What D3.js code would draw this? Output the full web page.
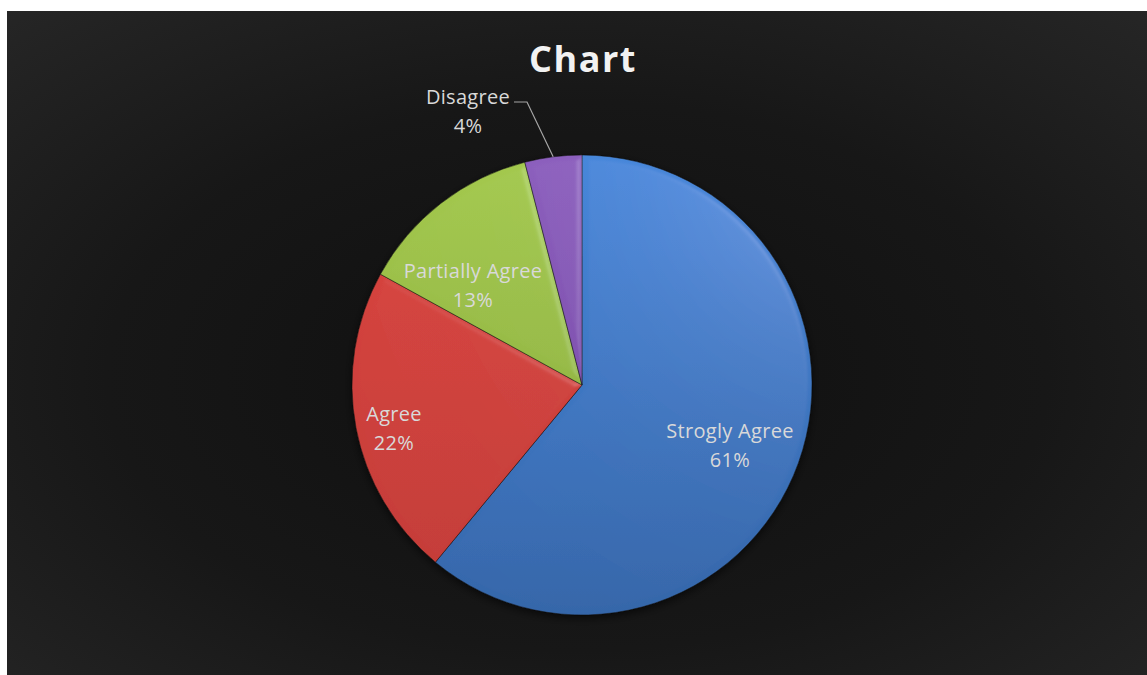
<!DOCTYPE html>
<html>
<head>
<meta charset="utf-8">
<script src="https://cdn.jsdelivr.net/npm/d3@7"></script>
<style>
  html, body { margin: 0; padding: 0; background: #fff; }
  #chart { position: absolute; left: 7px; top: 11px; }
</style>
</head>
<body>
<div id="chart"></div>
<script>
// chart data
const categories = ['Strogly Agree', 'Agree', 'Partially Agree', 'Disagree']
const values = [61, 22, 13, 4]
const colors = ['#4787da', '#db4540', '#a4c94e', '#8c5fbd']
const darkColors = ['#3566a9', '#c23c38', '#86a83c', '#7446a3']

const width = 1140,
  height = 664,
  cx = 575,
  cy = 374,
  radius = 230

let svg = d3.select('#chart')
  .append('svg')
  .attr('width', width)
  .attr('height', height)

let defs = svg.append('defs')

// background
let bg = defs.append('radialGradient')
  .attr('id', 'bg')
  .attr('cx', 0.5).attr('cy', 0.55).attr('r', 0.75)
bg.append('stop').attr('offset', '0%').attr('stop-color', '#0f0f0f')
bg.append('stop').attr('offset', '55%').attr('stop-color', '#171717')
bg.append('stop').attr('offset', '100%').attr('stop-color', '#262626')

svg.append('rect')
  .attr('width', width)
  .attr('height', height)
  .attr('fill', 'url(#bg)')

// slice gradients
colors.forEach((c, i) => {
  let g = defs.append('linearGradient')
    .attr('id', 'slice' + i)
    .attr('gradientUnits', 'userSpaceOnUse')
    .attr('x1', 0).attr('y1', -radius)
    .attr('x2', 0).attr('y2', radius)
  g.append('stop').attr('offset', '0%').attr('stop-color', c)
  g.append('stop').attr('offset', '100%').attr('stop-color', darkColors[i])
})

// bevel-ish filter
let f = defs.append('filter').attr('id', 'bevel')
  .attr('x', '-10%').attr('y', '-10%').attr('width', '120%').attr('height', '120%')
f.append('feGaussianBlur').attr('in', 'SourceAlpha').attr('stdDeviation', 3).attr('result', 'blur')
f.append('feSpecularLighting')
  .attr('in', 'blur').attr('surfaceScale', 3).attr('specularConstant', 0.6)
  .attr('specularExponent', 25).attr('lighting-color', '#ffffff').attr('result', 'spec')
  .append('fePointLight').attr('x', cx - 300).attr('y', cy - 600).attr('z', 300)
f.append('feComposite').attr('in', 'spec').attr('in2', 'SourceAlpha')
  .attr('operator', 'in').attr('result', 'specOut')
f.append('feComposite').attr('in', 'SourceGraphic').attr('in2', 'specOut')
  .attr('operator', 'arithmetic').attr('k1', 0).attr('k2', 1).attr('k3', 0.14).attr('k4', 0)

let shadow = defs.append('filter').attr('id', 'shadow')
  .attr('x', '-20%').attr('y', '-20%').attr('width', '140%').attr('height', '140%')
shadow.append('feDropShadow').attr('dx', 0).attr('dy', 3).attr('stdDeviation', 4)
  .attr('flood-color', '#000').attr('flood-opacity', 0.6)

// title
svg.append('text')
  .attr('x', cx + 1)
  .attr('y', 61)
  .attr('text-anchor', 'middle')
  .attr('font-family', '"Open Sans", sans-serif')
  .attr('font-weight', 'bold')
  .attr('font-size', 36)
  .attr('letter-spacing', 1.5)
  .attr('fill', '#f2f2f2')
  .text('Chart')

let pie = d3.pie().sort(null).value(d => d)
let arcs = pie(values)
let arc = d3.arc().innerRadius(0).outerRadius(radius)

let g = svg.append('g')
  .attr('transform', `translate(${cx},${cy})`)

let pieG = g.append('g').attr('filter', 'url(#shadow)')

pieG.selectAll('path.slice')
  .data(arcs)
  .enter()
  .append('path')
  .attr('class', 'slice')
  .attr('d', arc)
  .attr('fill', (d, i) => `url(#slice${i})`)
  .attr('stroke', 'rgba(20,20,20,0.5)')
  .attr('stroke-width', 1)
  .attr('filter', 'url(#bevel)')

// labels
const labelPos = [[148, 53], [-188, 36], [-109, -107], [-114, -281]]
const labelFont = '"Open Sans", sans-serif'

let labels = g.selectAll('g.label')
  .data(arcs)
  .enter()
  .append('g')
  .attr('class', 'label')
  .attr('transform', (d, i) => `translate(${labelPos[i][0]},${labelPos[i][1]})`)

labels.append('text')
  .attr('text-anchor', 'middle')
  .attr('font-family', labelFont)
  .attr('font-size', 20)
  .attr('letter-spacing', 0.3)
  .attr('fill', '#d9d9d9')
  .text((d, i) => categories[i])

labels.append('text')
  .attr('y', 29)
  .attr('text-anchor', 'middle')
  .attr('font-family', labelFont)
  .attr('font-size', 20)
  .attr('letter-spacing', 0.3)
  .attr('fill', '#d9d9d9')
  .text((d, i) => Math.round(d.value / d3.sum(values) * 100) + '%')

// leader line for Disagree
let dis = arcs[3]
let mid = (dis.startAngle + dis.endAngle) / 2
let px = Math.sin(mid) * radius,
  py = -Math.cos(mid) * radius
g.append('path')
  .attr('d', `M${-68},${-283}L${-55},${-283}L${px},${py}`)
  .attr('fill', 'none')
  .attr('stroke', '#a6a6a6')
  .attr('stroke-width', 1.2)
</script>
</body>
</html>
